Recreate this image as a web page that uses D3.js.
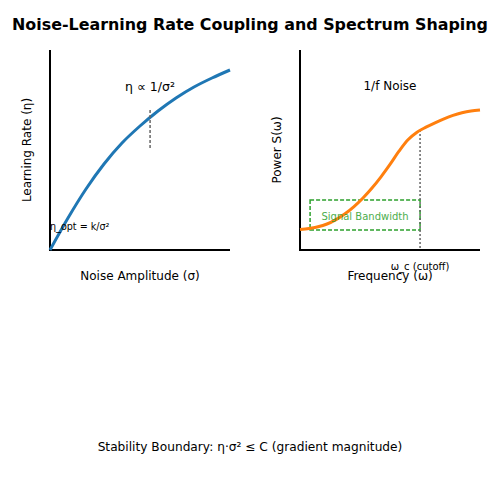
<!DOCTYPE html>
<html><head><meta charset="utf-8">
<script src="https://cdn.jsdelivr.net/npm/d3@7"></script>
<style>body{margin:0;background:#fff}text{font-family:"DejaVu Sans",sans-serif}</style>
</head><body><svg id="c" width="500" height="500"></svg>
<script>
// Left panel: learning rate vs noise amplitude (relative units)
const sigmaVals = [0,1,2,3,4,5,6,7,8,9,10];
const etaVals   = [0,1.6,3.05,4.3,5.35,6.2,6.95,7.6,8.15,8.6,9.0];
// Right panel: power spectrum
const freqVals  = [0,0.5,1,1.5,2,2.5,3,3.5,4,4.5,5,5.5,6,6.5,7,7.5,8,8.5,9,9.5,10];
const powerVals = [1.02,1.08,1.16,1.30,1.52,1.81,2.17,2.60,3.10,3.66,4.28,4.94,5.51,5.89,6.14,6.36,6.56,6.73,6.86,6.95,7.0];
const markerSigma = 5.56, markerEta = [5.1, 7.0];
const bandX = [0.56, 6.67], bandY = [1.0, 2.5];
const cutoffFreq = 6.67;
const titleText = "Noise-Learning Rate Coupling and Spectrum Shaping";
const footerText = "Stability Boundary: η·σ² ≤ C (gradient magnitude)";

const svg = d3.select("#c");
svg.append("text").attr("x",250).attr("y",30).attr("text-anchor","middle")
  .attr("font-size",15.9).attr("font-weight","bold").text(titleText);

function panel(x0, xl, yl){
  const x = d3.scaleLinear().domain([0,10]).range([x0, x0+180]);
  const y = d3.scaleLinear().domain([0,10]).range([250,50]);
  const g = svg.append("g");
  g.append("line").attr("x1",x0).attr("x2",x0).attr("y1",50).attr("y2",251).attr("stroke","#000").attr("stroke-width",2);
  g.append("line").attr("x1",x0-1).attr("x2",x0+180).attr("y1",250).attr("y2",250).attr("stroke","#000").attr("stroke-width",2);
  g.append("text").attr("x",x0+90).attr("y",280).attr("text-anchor","middle").attr("font-size",12).text(xl);
  g.append("text").attr("transform",`translate(${x0-19},150) rotate(-90)`).attr("text-anchor","middle").attr("font-size",12).text(yl);
  return {x,y,g};
}

const L = panel(50, "Noise Amplitude (σ)", "Learning Rate (η)");
L.g.append("path").datum(sigmaVals.map((s,i)=>[s,etaVals[i]]))
  .attr("d", d3.line().x(d=>L.x(d[0])).y(d=>L.y(d[1])).curve(d3.curveMonotoneX))
  .attr("fill","none").attr("stroke","#1f77b4").attr("stroke-width",3);
L.g.append("line").attr("x1",L.x(markerSigma)).attr("x2",L.x(markerSigma))
  .attr("y1",L.y(markerEta[0])).attr("y2",L.y(markerEta[1]))
  .attr("stroke","#666").attr("stroke-width",1.5).attr("stroke-dasharray","3,2");
L.g.append("text").attr("x",150).attr("y",91).attr("text-anchor","middle").attr("font-size",12.5).text("η ∝ 1/σ²");
L.g.append("text").attr("x",50).attr("y",230).attr("font-size",9.6).text("η_opt = k/σ²");

const R = panel(300, "Frequency (ω)", "Power S(ω)");
R.g.append("rect").attr("x",R.x(bandX[0])).attr("y",R.y(bandY[1]))
  .attr("width",R.x(bandX[1])-R.x(bandX[0])).attr("height",R.y(bandY[0])-R.y(bandY[1]))
  .attr("fill","none").attr("stroke","#2ca02c").attr("stroke-width",1.5).attr("stroke-dasharray","4,2");
R.g.append("line").attr("x1",R.x(cutoffFreq)).attr("x2",R.x(cutoffFreq))
  .attr("y1",R.y(6.0)).attr("y2",250)
  .attr("stroke","#666").attr("stroke-width",1.5).attr("stroke-dasharray","2,2");
R.g.append("path").datum(freqVals.map((f,i)=>[f,powerVals[i]]))
  .attr("d", d3.line().x(d=>R.x(d[0])).y(d=>R.y(d[1])).curve(d3.curveMonotoneX))
  .attr("fill","none").attr("stroke","#ff7f0e").attr("stroke-width",3);
R.g.append("text").attr("x",365).attr("y",220).attr("text-anchor","middle").attr("font-size",10).attr("fill","#2ca02c").attr("opacity",0.85).text("Signal Bandwidth");
R.g.append("text").attr("x",390).attr("y",90).attr("text-anchor","middle").attr("font-size",12).text("1/f Noise");
R.g.append("text").attr("x",420).attr("y",270).attr("text-anchor","middle").attr("font-size",10).text("ω_c (cutoff)");

svg.append("text").attr("x",250).attr("y",451).attr("text-anchor","middle").attr("font-size",12.2).text(footerText);
</script></body></html>
